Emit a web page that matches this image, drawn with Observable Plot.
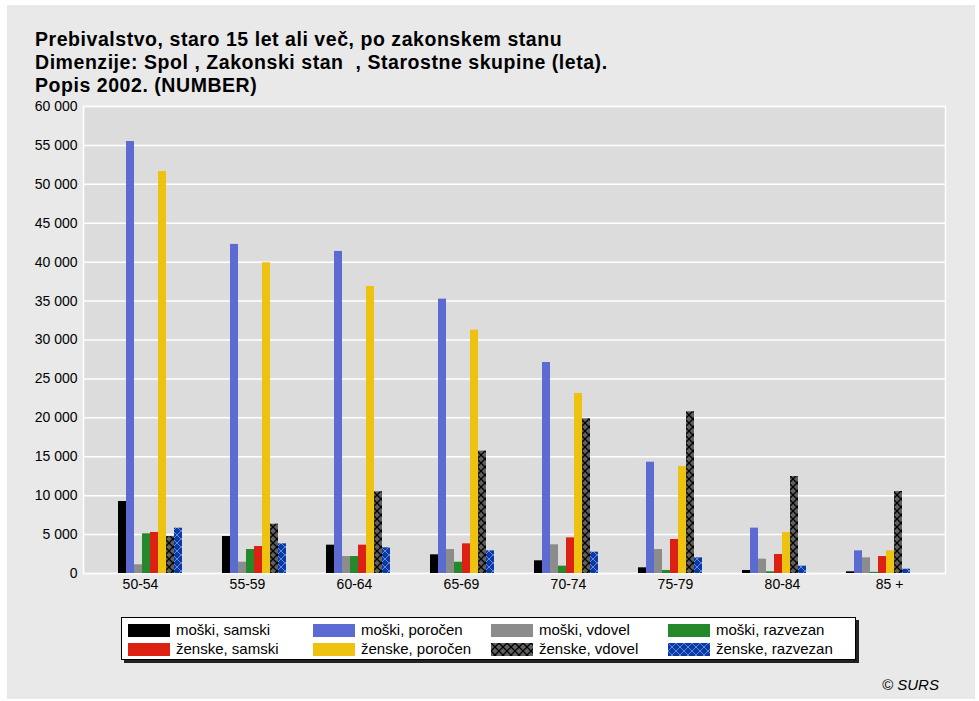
<!DOCTYPE html>
<html><head><meta charset="utf-8">
<script src="https://cdn.jsdelivr.net/npm/d3@7"></script>
<script src="https://cdn.jsdelivr.net/npm/@observablehq/plot@0.6"></script>
<style>
body{margin:0;width:979px;height:701px;background:#fff;font-family:"Liberation Sans",Arial,sans-serif;position:relative;overflow:hidden}
#panel{position:absolute;left:7px;top:5px;width:968px;height:694px;background:#e9e9e9}
#title{position:absolute;left:35px;top:28px;font-weight:bold;font-size:19.5px;letter-spacing:0.55px;line-height:23px;color:#000}
.layer{position:absolute;left:0;top:95px}
#legend{position:absolute;left:121px;top:617px;width:733px;height:41px;background:#fff;border:1px solid #000;box-shadow:3px 3px 0 #222}
.item{position:absolute;font-size:15px;line-height:16px;color:#000;white-space:nowrap}
.item svg{vertical-align:-2px;margin-right:6px}
#credit{position:absolute;left:882px;top:676px;font-style:italic;font-size:15px;color:#000}
</style></head>
<body>
<svg width="0" height="0" style="position:absolute">
<defs>
<pattern id="patVdovel" patternUnits="userSpaceOnUse" width="8" height="8">
<rect width="8" height="8" fill="#606060"/>
<path d="M0,0L8,8M8,0L0,8" stroke="#000" stroke-width="1.3"/>
</pattern>
<pattern id="patRazvezan" patternUnits="userSpaceOnUse" width="8" height="8">
<rect width="8" height="8" fill="#0c3a9e"/>
<path d="M0,0L8,8M8,0L0,8" stroke="#5a86e6" stroke-width="1"/>
</pattern>
</defs>
</svg>
<div id="panel"></div>
<div id="title">Prebivalstvo, staro 15 let ali več, po zakonskem stanu<br>Dimenzije: Spol , Zakonski stan&nbsp; , Starostne skupine (leta).<br>Popis 2002. (NUMBER)</div>
<div id="bg" class="layer"></div>
<div id="fg" class="layer"></div>
<div id="legend"></div>
<div id="credit">© SURS</div>
<script>
const groups = ["50-54","55-59","60-64","65-69","70-74","75-79","80-84","85 +"];
const series = ["moški, samski","moški, poročen","moški, vdovel","moški, razvezan","ženske, samski","ženske, poročen","ženske, vdovel","ženske, razvezan"];
const moskiSamski    = [9250, 4750, 3640, 2400, 1630, 730, 390, 220];
const moskiPorocen   = [55500, 42280, 41380, 35250, 27110, 14300, 5830, 2910];
const moskiVdovel    = [1120, 1450, 2180, 3080, 3690, 3080, 1840, 2010];
const moskiRazvezan  = [5100, 3080, 2180, 1450, 940, 390, 220, 150];
const zenskeSamski   = [5270, 3470, 3640, 3810, 4580, 4370, 2440, 2180];
const zenskePorocen  = [51650, 39920, 36880, 31270, 23130, 13750, 5270, 2910];
const zenskeVdovel   = [4750, 6340, 10500, 15720, 19870, 20780, 12460, 10540];
const zenskeRazvezan = [5820, 3810, 3300, 2910, 2740, 2010, 940, 550];
const yTicks = [0,5000,10000,15000,20000,25000,30000,35000,40000,45000,50000,55000,60000];
const fills = ["#000000","#5b6bd2","#8c8c8c","#24892a","#dc2012","#efc210","url(#patVdovel)","url(#patRazvezan)"];

const values = [moskiSamski,moskiPorocen,moskiVdovel,moskiRazvezan,zenskeSamski,zenskePorocen,zenskeVdovel,zenskeRazvezan];
const data = groups.flatMap((g,i)=>series.map((s,j)=>({group:g, series:s, value:values[j][i]})));
const fmt = v => d3.format(",")(v).replace(/,/g," ");

const dims = {width:979, height:505, marginLeft:83, marginRight:34, marginTop:11, marginBottom:27};
const font = {background:"transparent", fontFamily:'"Liberation Sans", Arial, sans-serif', fontSize:"14px", color:"#000", overflow:"visible"};

// background layer: plot area, grid, axes
const bg = Plot.plot({
  ...dims, style:font,
  x:{domain:groups, paddingInner:0.35, paddingOuter:0.3, label:null},
  y:{domain:[0,60000], label:null},
  marks:[
    Plot.frame({fill:"#dcdcdc"}),
    Plot.gridY(yTicks, {stroke:"#fff", strokeOpacity:1, strokeWidth:1.5}),
    Plot.axisY(yTicks, {tickSize:0, tickPadding:6, tickFormat:fmt, label:null, fontSize:14}),
    Plot.axisX({tickSize:0, tickPadding:6, label:null, fontSize:14}),
    Plot.frame({stroke:"#fff", strokeWidth:1.5})
  ]
});
document.getElementById("bg").appendChild(bg);

// foreground layer: grouped bars
const fg = Plot.plot({
  ...dims, style:font,
  fx:{domain:groups, paddingInner:0.35, paddingOuter:0.3, label:null, axis:null},
  x:{domain:series, axis:null, padding:0},
  y:{domain:[0,60000], axis:null},
  color:{domain:series, range:fills},
  marks:[
    Plot.barY(data, {fx:"group", x:"series", y:"value", fill:"series", inset:0})
  ]
});
document.getElementById("fg").appendChild(fg);

const leg = document.getElementById("legend");
const colLeft = [6, 191, 369, 546];
series.forEach((s,i)=>{
  const d = document.createElement("div");
  d.className = "item";
  d.style.left = colLeft[i%4] + "px";
  d.style.top = (4 + Math.floor(i/4)*19) + "px";
  d.innerHTML = `<svg width="42" height="13"><rect width="42" height="13" fill="${fills[i]}"/></svg>${s}`;
  leg.appendChild(d);
});
</script>
</body></html>
